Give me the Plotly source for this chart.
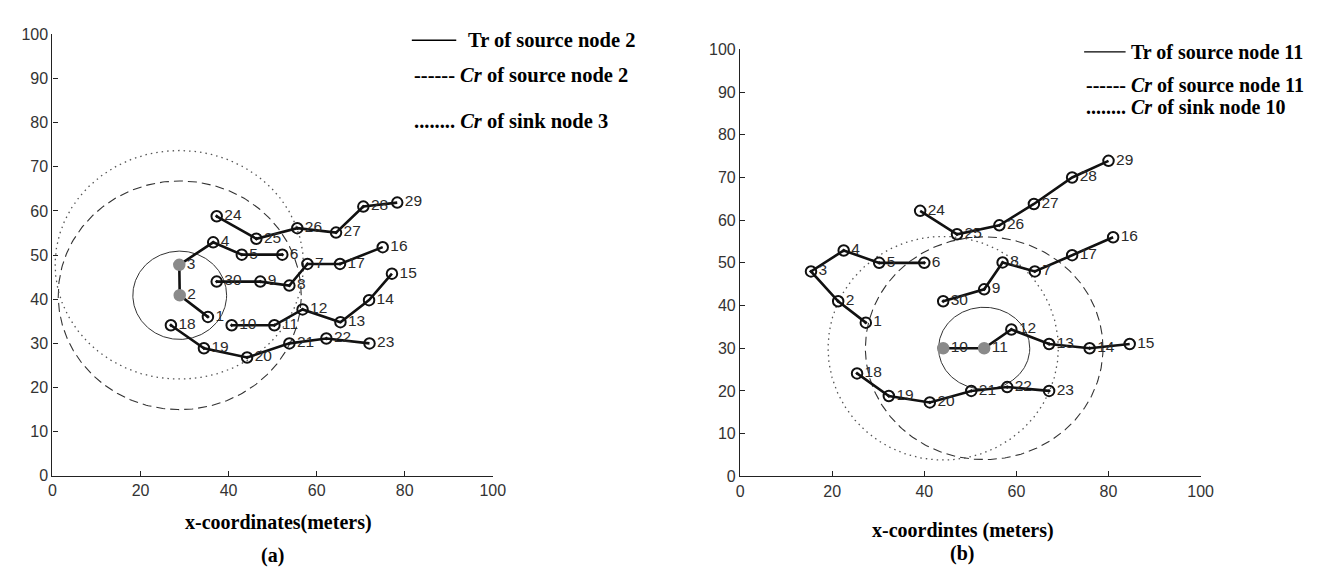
import numpy as np
import plotly.graph_objects as go

W, H = 1331, 567

# ---------------- data: panel (a) ----------------
node_ids = list(range(1, 31))
a_x = [35.3, 28.9, 28.8, 36.5, 43.0, 52.2, 57.9, 53.8, 47.2, 40.7,
       50.4, 56.8, 65.4, 71.9, 77.1, 75.0, 65.3, 26.9, 34.4, 44.2,
       53.8, 62.2, 72.0, 37.3, 46.3, 55.6, 64.4, 70.6, 78.3, 37.3]
a_y = [36.0, 40.9, 47.8, 52.9, 50.1, 50.1, 48.0, 43.1, 44.0, 34.1,
       34.1, 37.7, 34.8, 39.8, 45.8, 51.8, 48.0, 34.1, 28.9, 26.8,
       30.0, 31.1, 30.0, 58.8, 53.7, 56.1, 55.1, 61.0, 61.9, 44.0]
a_special = [2, 3]          # source / sink nodes (grey)
a_tr_center = 2
a_tr_radius = (10.65, 10.0)
a_cr_src_radius = (27.6, 25.9)
a_cr_sink_center = 3
a_cr_sink_radius = (28.2, 25.9)

# ---------------- data: panel (b) ----------------
b_x = [27.3, 21.3, 15.4, 22.5, 30.2, 40.0, 64.0, 57.0, 53.0, 44.1,
       53.0, 58.9, 67.1, 75.9, 84.6, 81.0, 72.1, 25.4, 32.3, 41.2,
       50.2, 58.0, 67.1, 39.1, 47.1, 56.3, 63.8, 72.1, 80.0, 44.1]
b_y = [36.0, 41.0, 48.0, 52.9, 50.0, 50.0, 48.0, 50.1, 43.8, 30.0,
       30.0, 34.4, 31.0, 30.0, 31.0, 56.0, 51.8, 24.1, 18.8, 17.3,
       20.0, 20.9, 20.0, 62.2, 56.7, 58.8, 63.8, 70.0, 73.9, 41.0]
b_special = [10, 11]
b_tr_center = 11
b_tr_radius = (9.9, 9.6)
b_cr_src_radius = (25.8, 26.1)
b_cr_sink_center = 10
b_cr_sink_radius = (25.0, 26.2)

# routing chains (same topology in both panels)
chains = [
    [1, 2, 3, 4, 5, 6],
    [24, 25, 26, 27, 28, 29],
    [30, 9, 8, 7, 17, 16],
    [10, 11, 12, 13, 14, 15],
    [18, 19, 20, 21, 22, 23],
]

axis_ticks_x = [0, 20, 40, 60, 80, 100]
axis_ticks_y = [0, 10, 20, 30, 40, 50, 60, 70, 80, 90, 100]

legend_a = ["Tr of source node 2", "<i>Cr</i> of source node 2", "<i>Cr</i> of sink node 3"]
legend_b = ["Tr of source node 11", "<i>Cr</i> of source node 11", "<i>Cr</i> of sink node 10"]
xtitle_a = "x-coordinates(meters)"
xtitle_b = "x-coordintes (meters)"

# ---------------- styles ----------------
open_a = [13, 14, 15, 16, 23, 29]
open_b = [15, 16, 17, 24, 27, 28, 29]

fig = go.Figure()


def ellipse(cx, cy, rx, ry, n=361):
    t = np.linspace(0, 2 * np.pi, n)
    return cx + rx * np.cos(t), cy + ry * np.sin(t)


def panel(xs, ys, special, tr_c, tr_r, cr_r, sink_c, sink_r, open_nodes, xa, ya):
    xs = np.array(xs)
    ys = np.array(ys)
    cx, cy = xs[tr_c - 1], ys[tr_c - 1]
    ex, ey = ellipse(cx, cy, *tr_r)
    fig.add_trace(go.Scatter(x=ex, y=ey, mode="lines", xaxis=xa, yaxis=ya,
                             line=dict(color="#333333", width=1), hoverinfo="skip", showlegend=False))
    ex, ey = ellipse(cx, cy, *cr_r)
    fig.add_trace(go.Scatter(x=ex, y=ey, mode="lines", xaxis=xa, yaxis=ya,
                             line=dict(color="#333333", width=1.1, dash="9px,5px"),
                             hoverinfo="skip", showlegend=False))
    sx, sy = xs[sink_c - 1], ys[sink_c - 1]
    ex, ey = ellipse(sx, sy, *sink_r)
    fig.add_trace(go.Scatter(x=ex, y=ey, mode="lines", xaxis=xa, yaxis=ya,
                             line=dict(color="#555555", width=1.3, dash="1.5px,4px"),
                             hoverinfo="skip", showlegend=False))
    for ch in chains:
        idx = np.array(ch) - 1
        fig.add_trace(go.Scatter(x=xs[idx], y=ys[idx], mode="lines",
                                 xaxis=xa, yaxis=ya, line=dict(color="#111111", width=2.6),
                                 hoverinfo="skip", showlegend=False))
    syms, cols, lcols = [], [], []
    for nid in node_ids:
        if nid in special:
            syms.append("circle")
            cols.append("#8a8a8a")
            lcols.append("#8a8a8a")
        elif nid in open_nodes:
            syms.append("circle-open")
            cols.append("#111111")
            lcols.append("#111111")
        else:
            syms.append("circle-open-dot")
            cols.append("#111111")
            lcols.append("#111111")
    fig.add_trace(go.Scatter(x=xs, y=ys, mode="markers+text", xaxis=xa, yaxis=ya,
                             text=[str(n) for n in node_ids], textposition="middle right",
                             textfont=dict(family="Liberation Sans, Arial", size=15.5, color="#2a2a2a"),
                             marker=dict(symbol=syms, size=10.5, color=cols,
                                         line=dict(color=lcols, width=2)),
                             hoverinfo="skip", showlegend=False))


panel(a_x, a_y, a_special, a_tr_center, a_tr_radius, a_cr_src_radius,
      a_cr_sink_center, a_cr_sink_radius, open_a, "x", "y")
panel(b_x, b_y, b_special, b_tr_center, b_tr_radius, b_cr_src_radius,
      b_cr_sink_center, b_cr_sink_radius, open_b, "x2", "y2")


def px(x):
    return x / W


def py(y):
    return 1 - y / H


axcommon = dict(range=[0, 100], showgrid=False, zeroline=False, showline=True,
                linecolor="#222222", linewidth=1.3, ticks="inside", ticklen=5,
                tickcolor="#222222", tickwidth=1.2,
                tickfont=dict(family="Liberation Sans, Arial", size=16, color="#333333"),
                mirror=False, fixedrange=True)

fig.update_layout(
    width=W, height=H, autosize=False,
    margin=dict(l=0, r=0, t=0, b=0),
    paper_bgcolor="white", plot_bgcolor="white",
    xaxis=dict(axcommon, domain=[px(41), px(487)], tickvals=axis_ticks_x, anchor="y"),
    yaxis=dict(axcommon, domain=[py(474), py(19)], tickvals=axis_ticks_y, anchor="x"),
    xaxis2=dict(axcommon, domain=[px(737.5), px(1204)], tickvals=axis_ticks_x, anchor="y2"),
    yaxis2=dict(axcommon, domain=[py(474.5), py(34.5)], tickvals=axis_ticks_y, anchor="x2"),
)

serif = "Liberation Serif, Times New Roman, serif"
ann = []
shapes = []


def legend_block(x0, line_end, text_x, ys, texts, size):
    shapes.append(dict(type="line", xref="paper", yref="paper",
                       x0=px(x0), x1=px(line_end), y0=py(ys[0]), y1=py(ys[0]),
                       line=dict(color="black", width=1.3)))
    ann.append(dict(x=px(text_x), y=py(ys[0]), xref="paper", yref="paper",
                    text="<b>" + texts[0] + "</b>", showarrow=False, xanchor="left", yanchor="middle",
                    font=dict(family=serif, size=size, color="black")))
    ann.append(dict(x=px(x0), y=py(ys[1]), xref="paper", yref="paper",
                    text="<b>------ " + texts[1] + "</b>", showarrow=False, xanchor="left",
                    yanchor="middle", font=dict(family=serif, size=size, color="black")))
    ann.append(dict(x=px(x0), y=py(ys[2]), xref="paper", yref="paper",
                    text="<b>........ " + texts[2] + "</b>", showarrow=False, xanchor="left",
                    yanchor="middle", font=dict(family=serif, size=size, color="black")))


legend_block(405, 450, 460, [25, 61, 108], legend_a, 20.5)
legend_block(1086, 1128, 1131, [37, 71, 94], legend_b, 20)

for txt, cx, cy in [(xtitle_a, 270, 522), ("(a)", 264, 556), (xtitle_b, 963, 530), ("(b)", 962, 554)]:
    ann.append(dict(x=px(cx), y=py(cy), xref="paper", yref="paper", text="<b>" + txt + "</b>",
                    showarrow=False, xanchor="center", yanchor="middle",
                    font=dict(family=serif, size=20, color="black")))

fig.update_layout(annotations=ann, shapes=shapes)
fig.write_html("out.html")
